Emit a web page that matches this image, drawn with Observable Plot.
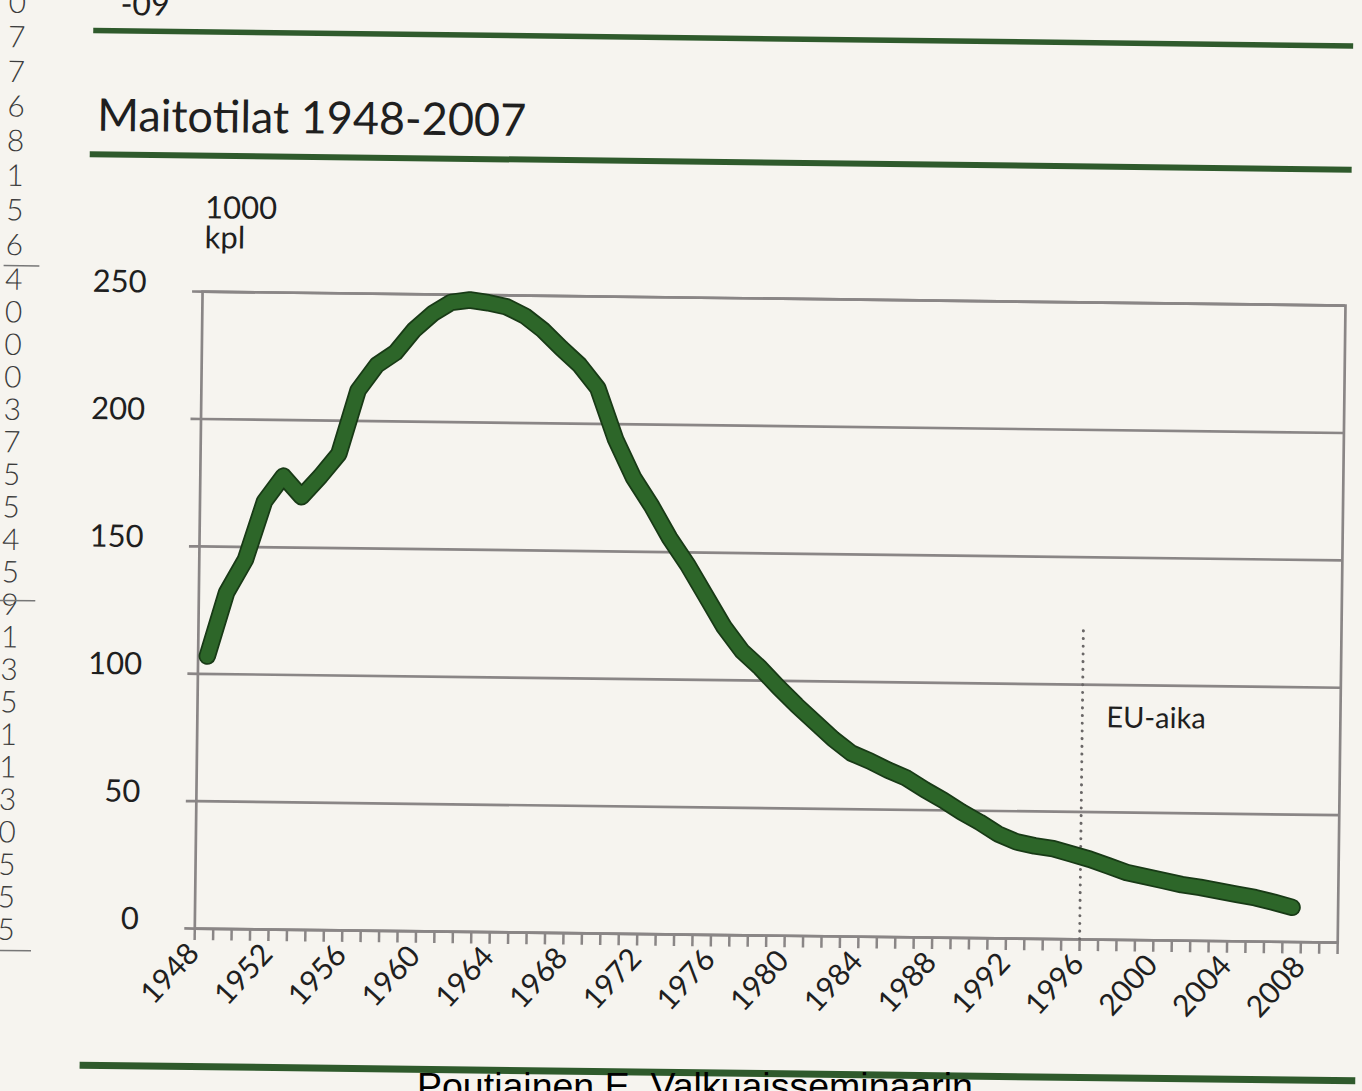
<!DOCTYPE html>
<html>
<head>
<meta charset="utf-8">
<script src="https://cdn.jsdelivr.net/npm/d3@7"></script>
<script src="https://cdn.jsdelivr.net/npm/@observablehq/plot@0.6"></script>
<style>
  html, body { margin: 0; padding: 0; background: #f6f4ef; }
  #page { position: relative; width: 1362px; height: 1091px; overflow: hidden; background: #f6f4ef; }
  #scan { position: absolute; left: 0; top: 0; width: 1362px; height: 1091px;
          transform: rotate(0.7deg); transform-origin: 681px 545.5px; }
  #scan svg { position: absolute; left: 0; top: 0; }
  #footer { position: absolute; left: 0; top: 0; }
</style>
</head>
<body>
<div id="page">
  <div id="scan"></div>
  <svg id="footer" width="1362" height="1091"></svg>
</div>
<script>
// ---- data ----
const years = [1948,1949,1950,1951,1952,1953,1954,1955,1956,1957,
               1958,1959,1960,1961,1962,1963,1964,1965,1966,1967,
               1968,1969,1970,1971,1972,1973,1974,1975,1976,1977,
               1978,1979,1980,1981,1982,1983,1984,1985,1986,1987,
               1988,1989,1990,1991,1992,1993,1994,1995,1996,1997,
               1998,1999,2000,2001,2002,2003,2004,2005,2006,2007];
// dairy farms, thousands
const farms = [107,132,145,168,178,170,178,187,212,222,
               227,236,242.5,247,248,247,245.5,242,236.5,229.5,
               223,214,194,179,168,155.5,145,133,121,111.5,
               105,97.5,90.5,84,77.5,72,69,65.5,62.5,58,
               54,49.5,45.5,41,38,36.5,35.5,33.5,31.5,29,
               26.5,25,23.5,22,21,19.7,18.4,17.2,15.5,13.6];
const yTicks = [0, 50, 100, 150, 200, 250];
const xLabelYears = [1948,1952,1956,1960,1964,1968,1972,1976,1980,1984,1988,1992,1996,2000,2004,2008];
const xDomain = [1947.5, 2009.5];
const xTickBounds = d3.range(1947.5, 2009.6, 1);
const euBoundary = 1995.5;
const euTop = 122;
const euLabel = "EU-aika";
const euLabelY = 87;
const title = "Maitotilat 1948-2007";
const unitLines = ["1000", "kpl"];
const footerText = "Poutiainen E. Valkuaisseminaarin";
const marginDigits = ["0","7","7","6","8","1","5","6","4","0","0","0","3","7","5","5","4","5","9","1","3","5","1","1","3","0","5","5","5"];

const FONT = "Lato, 'Open Sans', sans-serif";
const GRID = "#8a8686";
const GREEN_RULE = "#2f5a2c";
const INK = "#1f1f1f";

// ---- chart ----
const chart = Plot.plot({
  width: 1362,
  height: 1091,
  marginLeft: 199,
  marginRight: 20,
  marginTop: 297,
  marginBottom: 157,
  x: {domain: xDomain, axis: null},
  y: {domain: [0, 250], axis: null},
  style: {background: "transparent", fontFamily: FONT, color: INK},
  marks: [
    Plot.ruleY(yTicks, {stroke: GRID, strokeWidth: 2.7}),
    Plot.axisY(yTicks, {tickSize: 10, tickFormat: () => "", stroke: GRID, strokeWidth: 2.7, label: null}),
    Plot.axisX(xTickBounds, {tickSize: 12, tickFormat: () => "", stroke: GRID, strokeWidth: 2.5, label: null}),
    Plot.frame({stroke: GRID, strokeWidth: 2.7}),
    Plot.text(yTicks, {y: d => d, text: d => String(d), frameAnchor: "left", textAnchor: "end",
                       dx: -56, dy: -8.5, fontSize: 31, fill: INK}),
    Plot.text(xLabelYears, {x: d => d, text: d => String(d), frameAnchor: "bottom", textAnchor: "end",
                            rotate: -48, dx: -3, dy: 26, fontSize: 30, fill: INK}),
    Plot.ruleX([euBoundary], {y1: 0, y2: euTop, stroke: "#6a6767", strokeWidth: 3,
                              strokeDasharray: "0.1,7.6", strokeLinecap: "round"}),
    Plot.text([euLabel], {x: euBoundary, y: euLabelY, text: d => d, textAnchor: "start", dx: 24,
                          fontSize: 29, fill: INK}),
    Plot.line(farms, {x: years, y: farms, stroke: "#183a16", strokeWidth: 17.5,
                      strokeLinecap: "round", strokeLinejoin: "round"}),
    Plot.line(farms, {x: years, y: farms, stroke: "#2d6629", strokeWidth: 14,
                      strokeLinecap: "round", strokeLinejoin: "round"})
  ]
});
const scan = document.getElementById("scan");
scan.appendChild(chart);

// ---- decorations of the page (rules, title, unit, margin text) ----
const ov = d3.select(scan).append("svg").attr("width", 1362).attr("height", 1091)
  .style("font-family", FONT);

ov.append("rect").attr("x", 87).attr("y", 35).attr("width", 1260).attr("height", 5.5).attr("fill", GREEN_RULE);
ov.append("rect").attr("x", 85).attr("y", 158.5).attr("width", 1262).attr("height", 6).attr("fill", GREEN_RULE);
ov.append("rect").attr("x", 86).attr("y", 1069).attr("width", 1276).attr("height", 7).attr("fill", GREEN_RULE);

ov.append("text").attr("x", 114).attr("y", 22).attr("font-size", 32).attr("fill", INK).text("-09");

ov.append("text").attr("x", 92).attr("y", 138).attr("font-size", 45)
  .attr("fill", INK).text(title);

unitLines.forEach((t, i) => {
  ov.append("text").attr("x", 201).attr("y", 224 + i * 30).attr("font-size", 31).attr("fill", INK).text(t);
});

marginDigits.forEach((t, i) => {
  const y = i <= 8 ? 21 + i * 34.6 : 298 + (i - 8) * 32.5;
  ov.append("text").attr("x", 2).attr("y", y).attr("font-size", 30)
    .attr("font-weight", 300).attr("fill", "#3c3c3c").text(t);
});
[273, 608, 958].forEach(y => {
  ov.append("rect").attr("x", 0).attr("y", y).attr("width", 36).attr("height", 1.5).attr("fill", "#777");
});

// ---- footer overlay (not part of the scan) ----
d3.select("#footer").append("text").attr("x", 417).attr("y", 1099)
  .attr("font-family", "'Liberation Sans', Arial, sans-serif").attr("font-size", 37.5)
  .attr("fill", "#000").text(footerText);
</script>
</body>
</html>
